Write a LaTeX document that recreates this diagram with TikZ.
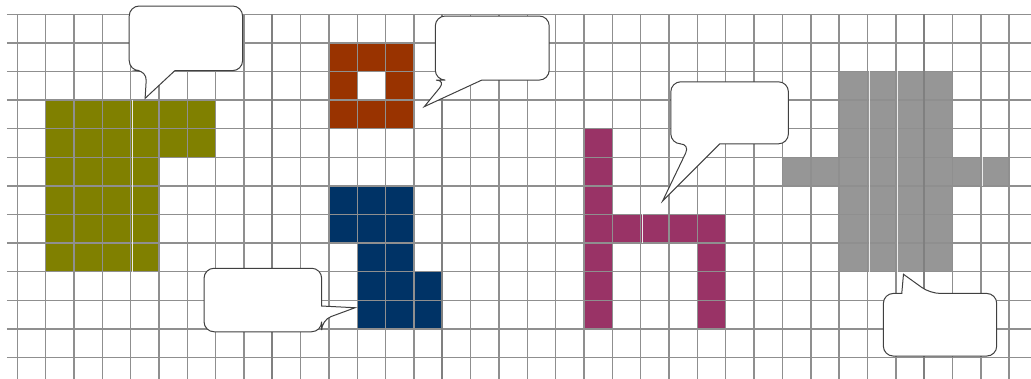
\documentclass[tikz,border=0pt]{standalone}
\usepackage{xcolor}
\usepackage{tikz}

\definecolor{blockolive}{HTML}{808000}
\definecolor{blockrust}{HTML}{993300}
\definecolor{blocknavy}{HTML}{003366}
\definecolor{blockplum}{HTML}{993366}
\definecolor{blockgray}{HTML}{969696}
\definecolor{gridgray}{HTML}{8F8F8F}

\begin{document}
\begin{tikzpicture}[x=28.34pt, y=-28.6pt,
    gridline/.style={draw=gridgray, line width=1.4pt},
    thickline/.style={draw=gray, line width=2.2pt},
    seam/.style={draw=white!85!gray, line width=0.8pt},
    bubble/.style={draw=black!75, fill=white, line width=1pt}]
    \useasboundingbox (-0.61, -0.5) rectangle (35.77, 12.75);

    % Blocks
    \fill[blockolive] (1, 3) rectangle (7, 5);
    \fill[blockolive] (1, 5) rectangle (5, 9);
    \fill[blockrust, even odd rule] (11, 1) rectangle (14, 4) (12, 2) rectangle (13, 3);
    \fill[blocknavy] (11, 6) rectangle (14, 8);
    \fill[blocknavy] (12, 8) rectangle (14, 9);
    \fill[blocknavy] (12, 9) rectangle (15, 11);
    \fill[blockplum] (20, 4) rectangle (21, 11);
    \fill[blockplum] (21, 7) rectangle (25, 8);
    \fill[blockplum] (24, 8) rectangle (25, 11);
    \fill[blockgray] (29, 2) rectangle (33, 9);
    \fill[blockgray] (27, 5) rectangle (35, 6);

    % Grid
    \foreach \j in {0,...,12}
      \draw[gridline] (-0.363, \j) -- (35.77, \j);
    \foreach \k in {0,...,35}
      \draw[gridline] (\k, 0) -- (\k, 12.75);
    \foreach \k in {9, 15, 32}
      \draw[thickline] (\k, 0) -- (\k, 12.75);

    % Light seams inside the blocks
    \draw[seam] (4.07, 3) -- (4.07, 9);
    \draw[seam] (22.07, 7) -- (22.07, 8);
    \draw[seam] (30.07, 2) -- (30.07, 9);
    \draw[seam] (31.07, 2) -- (31.07, 9);
    \draw[seam] (34.05, 5) -- (34.05, 6);

    % Callout tips
    \coordinate (tipOlive) at (4.51, 2.94);
    \coordinate (tipRust) at (14.36, 3.23);
    \coordinate (tipPlum) at (22.77, 6.53);
    \coordinate (tipNavy) at (11.92, 10.26);
    \coordinate (tipGray) at (31.27, 9.09);

    % Callouts
    \draw[bubble] (5.56, 1.97) [rounded corners=10pt] -- (7.95, 1.97) -- (7.95, -0.29)
      -- (3.95, -0.29) -- (3.95, 1.97) -- (4.57, 1.97) [sharp corners] -- (tipOlive) -- cycle;
    \draw[bubble] (16.39, 2.30) [rounded corners=10pt] -- (18.77, 2.30) -- (18.77, 0.06)
      -- (14.75, 0.06) -- (14.75, 2.30) -- (15.13, 2.30) [sharp corners] -- (tipRust) -- cycle;
    \draw[bubble] (24.79, 4.53) [rounded corners=10pt] -- (27.21, 4.53) -- (27.21, 2.36)
      -- (23.06, 2.36) -- (23.06, 4.53) -- (23.74, 4.53) [sharp corners] -- (tipPlum) -- cycle;
    \draw[bubble] (10.74, 10.20) [rounded corners=10pt] -- (10.74, 8.88) -- (6.59, 8.88)
      -- (6.59, 11.10) -- (10.74, 11.10) -- (10.74, 10.69) [sharp corners] -- (tipNavy) -- cycle;
    \draw[bubble] (31.21, 9.76) [rounded corners=10pt] -- (30.56, 9.76) -- (30.56, 11.95)
      -- (34.56, 11.95) -- (34.56, 9.76) -- (32.21, 9.76) [sharp corners] -- (tipGray) -- cycle;
\end{tikzpicture}
\end{document}
